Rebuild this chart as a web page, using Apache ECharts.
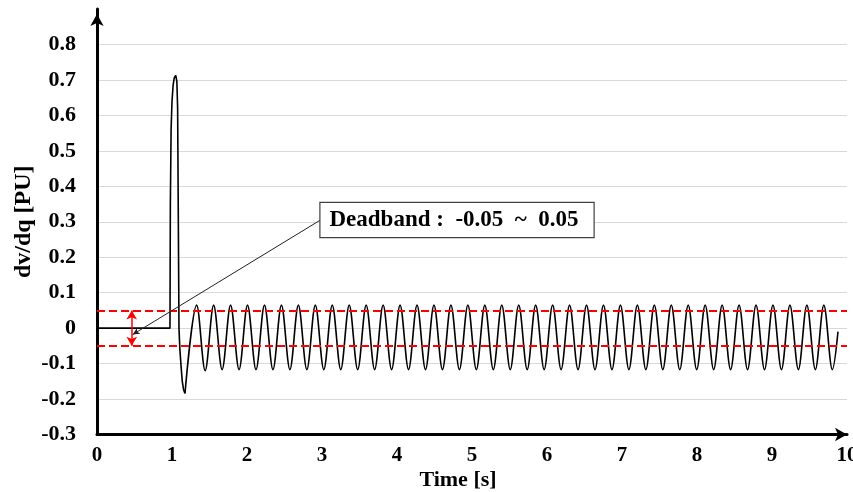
<!DOCTYPE html>
<html>
<head>
<meta charset="utf-8">
<title>dv/dq response</title>
<script src="https://cdn.jsdelivr.net/npm/echarts@6/dist/echarts.min.js"></script>
<style>
  html, body { margin: 0; padding: 0; background: #ffffff; }
  #chart { width: 853px; height: 492px; }
</style>
</head>
<body>
<div id="chart"></div>
<script>
// Flat start and the step pulse near 1 s: time [s] and dv/dq [PU]
const pulseTimeS = [
  0, 0.973, 0.978, 0.988, 1.0, 1.015, 1.03, 1.05, 1.065, 1.075, 1.083, 1.093,
  1.105, 1.12, 1.137, 1.153, 1.173
];
const pulseDvdq = [
  0, 0, 0.35, 0.56, 0.64, 0.685, 0.706, 0.713, 0.695, 0.62, 0.35, 0,
  -0.06, -0.105, -0.15, -0.172, -0.184
];

// Sustained oscillation: successive peaks and troughs, time [s] and dv/dq [PU]
const oscTimeS = [
  1.173,
  1.329, 1.442, 1.555, 1.668, 1.781, 1.894, 2.007, 2.120, 2.233, 2.346,
  2.459, 2.572, 2.685, 2.798, 2.911, 3.024, 3.137, 3.250, 3.363, 3.476,
  3.589, 3.702, 3.815, 3.928, 4.041, 4.154, 4.267, 4.380, 4.493, 4.606,
  4.719, 4.832, 4.945, 5.058, 5.171, 5.284, 5.397, 5.510, 5.623, 5.736,
  5.849, 5.962, 6.075, 6.188, 6.301, 6.414, 6.527, 6.640, 6.753, 6.866,
  6.979, 7.092, 7.205, 7.318, 7.431, 7.544, 7.657, 7.770, 7.883, 7.996,
  8.109, 8.222, 8.335, 8.448, 8.561, 8.674, 8.787, 8.900, 9.013, 9.126,
  9.239, 9.352, 9.465, 9.578, 9.691, 9.804, 9.88
];
const oscDvdq = [
  -0.184,
  0.065, -0.120, 0.065, -0.117, 0.065, -0.117, 0.065, -0.117, 0.065, -0.117,
  0.065, -0.117, 0.065, -0.117, 0.065, -0.117, 0.065, -0.117, 0.065, -0.117,
  0.065, -0.117, 0.065, -0.117, 0.065, -0.117, 0.065, -0.117, 0.065, -0.117,
  0.065, -0.117, 0.065, -0.117, 0.065, -0.117, 0.065, -0.117, 0.065, -0.117,
  0.065, -0.117, 0.065, -0.117, 0.065, -0.117, 0.065, -0.117, 0.065, -0.117,
  0.065, -0.117, 0.065, -0.117, 0.065, -0.117, 0.065, -0.117, 0.065, -0.117,
  0.065, -0.117, 0.065, -0.117, 0.065, -0.117, 0.065, -0.117, 0.065, -0.117,
  0.065, -0.117, 0.065, -0.117, 0.065, -0.117, -0.01
];

// Deadband limits [PU]
const deadbandLow = -0.05;
const deadbandHigh = 0.05;

// Axis ranges and tick steps
const xTicks = { min: 0, max: 10, step: 1 };
const yTicks = { min: -0.3, max: 0.9, step: 0.1, lastLabel: 0.8 };

const FONT = "'Liberation Serif', 'Times New Roman', serif";

const pulseTrace = pulseTimeS.map((t, i) => [t, pulseDvdq[i]]);
const oscTrace = oscTimeS.map((t, i) => [t, oscDvdq[i]]);
const deadbandText = 'Deadband :  ' + deadbandLow.toFixed(2) + '  ~  ' + deadbandHigh.toFixed(2);

const traceStyle = { color: '#000', width: 1.6 };
const boxAnchor = [2.98, 0.305];

const chart = echarts.init(document.getElementById('chart'), null, { renderer: 'canvas' });

chart.setOption({
  animation: false,
  backgroundColor: '#ffffff',
  grid: {
    left: 97, right: 6, top: 9, bottom: 57.5,
    containLabel: false, outerBoundsMode: 'none'
  },
  xAxis: {
    type: 'value',
    min: xTicks.min,
    max: xTicks.max,
    interval: xTicks.step,
    name: 'Time [s]',
    nameLocation: 'middle',
    nameGap: 35,
    nameMoveOverlap: false,
    nameTextStyle: {
      fontFamily: FONT, fontWeight: 'bold', fontSize: 22, color: '#000',
      padding: [0, 28, 0, 0]
    },
    axisLine: {
      show: true, onZero: false,
      symbol: ['none', 'arrow'], symbolSize: [10, 12],
      lineStyle: { color: '#000', width: 3 }
    },
    axisTick: { show: false },
    splitLine: { show: false },
    axisLabel: {
      fontFamily: FONT, fontWeight: 'bold', fontSize: 21, color: '#000', margin: 11,
      hideOverlap: false
    }
  },
  yAxis: {
    type: 'value',
    min: yTicks.min,
    max: yTicks.max,
    interval: yTicks.step,
    name: 'dv/dq [PU]',
    nameLocation: 'middle',
    nameGap: 61,
    nameMoveOverlap: false,
    nameTextStyle: { fontFamily: FONT, fontWeight: 'bold', fontSize: 24, color: '#000' },
    axisLine: {
      show: true, onZero: false,
      symbol: ['none', 'arrow'], symbolSize: [10, 12], symbolOffset: [0, -5],
      lineStyle: { color: '#000', width: 3 }
    },
    axisTick: { show: false },
    splitLine: {
      show: true, showMaxLine: false,
      lineStyle: { color: '#d9d9d9', width: 1 }
    },
    axisLabel: {
      fontFamily: FONT, fontWeight: 'bold', fontSize: 22, color: '#000', margin: 21,
      formatter: function (v) {
        if (v > yTicks.lastLabel + 1e-6) return '';
        if (Math.abs(v) < 1e-9) return '0';
        return v.toFixed(1);
      }
    }
  },
  series: [
    {
      name: 'dv/dq pulse',
      type: 'line',
      data: pulseTrace,
      showSymbol: false,
      smooth: false,
      lineStyle: traceStyle,
      silent: true,
      z: 3
    },
    {
      name: 'dv/dq',
      type: 'line',
      data: oscTrace,
      showSymbol: false,
      smooth: 0.34,
      smoothMonotone: 'x',
      lineStyle: traceStyle,
      silent: true,
      z: 3,
      markLine: {
        silent: true,
        symbol: 'none',
        label: { show: false },
        data: [
          { yAxis: deadbandHigh, lineStyle: { color: '#ff0000', width: 2, type: [8, 4] } },
          { yAxis: deadbandLow, lineStyle: { color: '#ff0000', width: 2, type: [8, 4] } },
          [
            { coord: [0.463, deadbandHigh], symbol: 'arrow', symbolSize: [8, 9],
              lineStyle: { color: '#ff0000', width: 1.5, type: 'solid' } },
            { coord: [0.463, deadbandLow], symbol: 'arrow', symbolSize: [8, 9] }
          ],
          [
            { coord: boxAnchor, symbol: 'none',
              lineStyle: { color: '#222', width: 1, type: 'solid' } },
            { coord: [0.476, -0.018], symbol: 'arrow', symbolSize: [5, 7] }
          ]
        ]
      },
      markPoint: {
        silent: true,
        symbol: 'rect',
        symbolSize: 0,
        data: [
          {
            coord: boxAnchor,
            label: {
              show: true,
              position: 'right',
              distance: 0,
              formatter: deadbandText,
              fontFamily: FONT,
              fontWeight: 'bold',
              fontSize: 23,
              lineHeight: 24,
              color: '#000',
              backgroundColor: '#ffffff',
              borderColor: '#404040',
              borderWidth: 1.2,
              padding: [5, 15, 5, 9]
            }
          }
        ]
      }
    }
  ]
});
</script>
</body>
</html>
